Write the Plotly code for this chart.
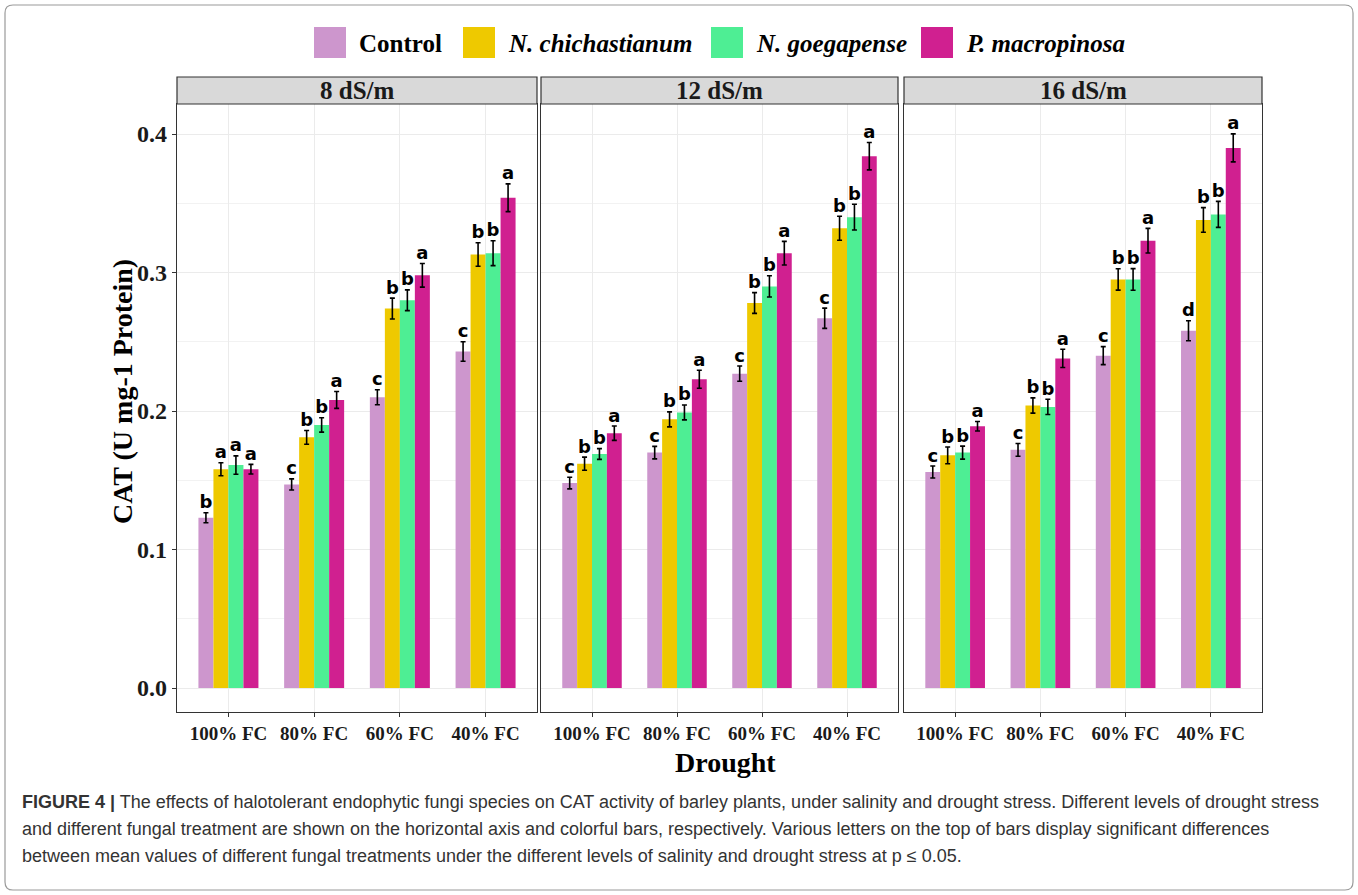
import plotly.graph_objects as go

# ---------------- data ----------------
categories = ["100% FC", "80% FC", "60% FC", "40% FC"]
panels = ["8 dS/m", "12 dS/m", "16 dS/m"]
series = ["Control", "N. chichastianum", "N. goegapense", "P. macropinosa"]
colors = ["#CD96CD", "#EEC900", "#4EEE94", "#D02090"]

# means per panel: [series][category]
means_8 = [
    [0.123, 0.147, 0.210, 0.243],
    [0.158, 0.181, 0.274, 0.313],
    [0.161, 0.190, 0.280, 0.314],
    [0.158, 0.208, 0.298, 0.354],
]
means_12 = [
    [0.148, 0.170, 0.227, 0.267],
    [0.162, 0.194, 0.278, 0.332],
    [0.169, 0.199, 0.290, 0.340],
    [0.184, 0.223, 0.314, 0.384],
]
means_16 = [
    [0.156, 0.172, 0.240, 0.258],
    [0.168, 0.204, 0.295, 0.338],
    [0.170, 0.203, 0.295, 0.342],
    [0.189, 0.238, 0.323, 0.390],
]
err_8 = [
    [0.0036, 0.0040, 0.0054, 0.0070],
    [0.0047, 0.0050, 0.0075, 0.0085],
    [0.0066, 0.0052, 0.0075, 0.0090],
    [0.0035, 0.0061, 0.0085, 0.0100],
]
err_12 = [
    [0.0042, 0.0045, 0.0055, 0.0073],
    [0.0047, 0.0054, 0.0075, 0.0087],
    [0.0039, 0.0054, 0.0077, 0.0093],
    [0.0052, 0.0065, 0.0085, 0.0099],
]
err_16 = [
    [0.0043, 0.0046, 0.0065, 0.0072],
    [0.0060, 0.0055, 0.0077, 0.0089],
    [0.0047, 0.0055, 0.0078, 0.0094],
    [0.0034, 0.0066, 0.0089, 0.0101],
]
letters_8 = [
    ["b", "c", "c", "c"],
    ["a", "b", "b", "b"],
    ["a", "b", "b", "b"],
    ["a", "a", "a", "a"],
]
letters_12 = [
    ["c", "c", "c", "c"],
    ["b", "b", "b", "b"],
    ["b", "b", "b", "b"],
    ["a", "a", "a", "a"],
]
letters_16 = [
    ["c", "c", "c", "d"],
    ["b", "b", "b", "b"],
    ["b", "b", "b", "b"],
    ["a", "a", "a", "a"],
]
y_ticks = [0.0, 0.1, 0.2, 0.3, 0.4]

means_all = [means_8, means_12, means_16]
errs_all = [err_8, err_12, err_16]
letters_all = [letters_8, letters_12, letters_16]

caption_lines = [
    "<b>FIGURE 4 |</b> The effects of halotolerant endophytic fungi species on CAT activity of barley plants, under salinity and drought stress. Different levels of drought stress",
    "and different fungal treatment are shown on the horizontal axis and colorful bars, respectively. Various letters on the top of bars display significant differences",
    "between mean values of different fungal treatments under the different levels of salinity and drought stress at p \u2264 0.05.",
]

# ---------------- layout helpers ----------------
W, H = 1358, 895
def px(x):
    return x / W
def py(y):
    return 1 - y / H

panel_x = [(177, 537), (541, 898), (904, 1262)]
plot_top, plot_bot = 104, 712
strip_top = 77
serif = "Liberation Serif"

bar_w = 0.175
n_s = len(series)
offsets = [(i - (n_s - 1) / 2) * bar_w for i in range(n_s)]
cat_idx = list(range(len(categories)))

fig = go.Figure()

for p in range(len(panels)):
    xa = "x" if p == 0 else f"x{p+1}"
    ya = "y" if p == 0 else f"y{p+1}"
    for s in range(n_s):
        xs = [c + offsets[s] for c in cat_idx]
        fig.add_trace(go.Bar(
            x=xs, y=means_all[p][s], width=bar_w,
            marker=dict(color=colors[s], line=dict(width=0)),
            error_y=dict(type="data", array=errs_all[p][s], color="black",
                         thickness=1.6, width=2.5),
            name=series[s], showlegend=False, xaxis=xa, yaxis=ya,
        ))
        tops = [m + e for m, e in zip(means_all[p][s], errs_all[p][s])]
        fig.add_trace(go.Scatter(
            x=xs, y=tops, mode="text", text=letters_all[p][s],
            textposition="top center",
            textfont=dict(family="DejaVu Sans", size=18, color="black", weight="bold"),
            showlegend=False, hoverinfo="skip", xaxis=xa, yaxis=ya,
        ))

axis_common = dict(
    showline=True, linecolor="#333333", linewidth=1.2, mirror=True,
    gridcolor="#EBEBEB", gridwidth=1.2, zeroline=False,
    ticks="outside", ticklen=4, tickcolor="#333333", tickwidth=1.2,
)

layout = dict(
    width=W, height=H, margin=dict(l=0, r=0, t=0, b=0),
    paper_bgcolor="white", plot_bgcolor="white", barmode="overlay",
    showlegend=False,
)

for p in range(len(panels)):
    xk = "xaxis" if p == 0 else f"xaxis{p+1}"
    yk = "yaxis" if p == 0 else f"yaxis{p+1}"
    x0, x1 = panel_x[p]
    layout[xk] = dict(
        axis_common, domain=[px(x0), px(x1)], range=[-0.6, len(categories) - 0.4],
        tickvals=cat_idx, ticktext=categories,
        tickfont=dict(family=serif, size=19, color="#1a1a1a", weight="bold"),
        anchor="y" if p == 0 else f"y{p+1}",
    )
    layout[yk] = dict(
        axis_common, domain=[py(plot_bot), py(plot_top)], range=[-0.0173, 0.4217],
        tickvals=y_ticks, ticktext=[f"{v:.1f}" for v in y_ticks],
        showticklabels=(p == 0),
        ticks="outside" if p == 0 else "",
        tickfont=dict(family=serif, size=24, color="#1a1a1a", weight="bold"),
        minor=dict(dtick=0.05, tick0=0, showgrid=True, gridcolor="#F2F2F2", gridwidth=0.8),
        anchor="x" if p == 0 else f"x{p+1}",
    )

fig.update_layout(**layout)

shapes = []
annotations = []

# outer rounded border
r = 8
bx0, by0, bx1, by1 = px(5), py(5), px(1353), py(890)
rx, ry = r / W, r / H
path = (f"M {bx0+rx},{by0} L {bx1-rx},{by0} Q {bx1},{by0} {bx1},{by0-ry} "
        f"L {bx1},{by1+ry} Q {bx1},{by1} {bx1-rx},{by1} L {bx0+rx},{by1} "
        f"Q {bx0},{by1} {bx0},{by1+ry} L {bx0},{by0-ry} Q {bx0},{by0} {bx0+rx},{by0} Z")
shapes.append(dict(type="path", path=path, xref="paper", yref="paper",
                   line=dict(color="#9a9a9a", width=1.2), layer="below"))

# strips
for p, name in enumerate(panels):
    x0, x1 = panel_x[p]
    shapes.append(dict(type="rect", xref="paper", yref="paper",
                       x0=px(x0), x1=px(x1), y0=py(plot_top), y1=py(strip_top),
                       fillcolor="#D9D9D9", line=dict(color="#333333", width=1.2)))
    annotations.append(dict(text=f"<b>{name}</b>", xref="paper", yref="paper",
                            x=px((x0 + x1) / 2), y=py((strip_top + plot_top) / 2),
                            xanchor="center", yanchor="middle", showarrow=False,
                            font=dict(family=serif, size=25, color="#1a1a1a")))

# manual legend
leg_sw_x = [314, 463, 711, 921]
for s in range(n_s):
    sx = leg_sw_x[s]
    shapes.append(dict(type="rect", xref="paper", yref="paper",
                       x0=px(sx), x1=px(sx + 32), y0=py(58), y1=py(27),
                       fillcolor=colors[s], line=dict(color="white", width=0)))
    label = f"<b>{series[s]}</b>" if s == 0 else f"<b><i>{series[s]}</i></b>"
    annotations.append(dict(text=label, xref="paper", yref="paper",
                            x=px(sx + 43), y=py(43), xanchor="left", yanchor="middle",
                            showarrow=False, font=dict(family=serif, size=25, color="black")))

# axis titles
annotations.append(dict(text="<b>CAT (U mg-1 Protein)</b>", xref="paper", yref="paper",
                        x=px(122), y=py(392), textangle=-90, xanchor="center", yanchor="middle",
                        showarrow=False, font=dict(family=serif, size=28, color="black")))
annotations.append(dict(text="<b>Drought</b>", xref="paper", yref="paper",
                        x=px(725), y=py(762), xanchor="center", yanchor="middle",
                        showarrow=False, font=dict(family=serif, size=28, color="black")))

# caption
cap_y = [802, 829, 856]
for line, yy in zip(caption_lines, cap_y):
    annotations.append(dict(text=line, xref="paper", yref="paper",
                            x=px(20), y=py(yy), xanchor="left", yanchor="middle",
                            showarrow=False, font=dict(family="Liberation Sans", size=18, color="#333333")))

fig.update_layout(shapes=shapes, annotations=annotations)
fig.write_html("out.html", config={"displayModeBar": False},
               post_script="document.body.style.margin='0px';document.body.style.overflow='hidden';")
